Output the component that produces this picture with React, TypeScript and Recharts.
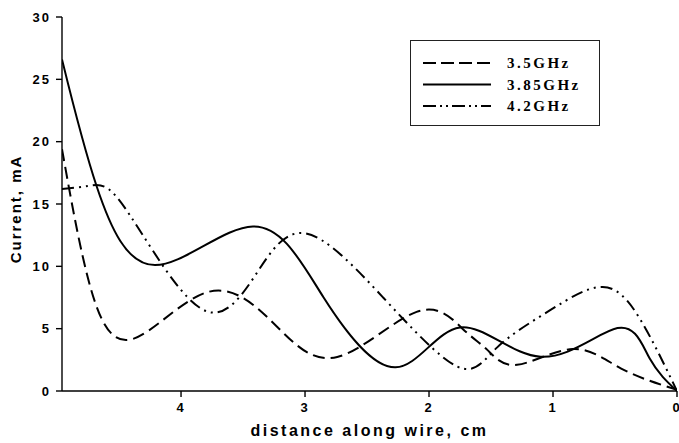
import React from 'react';
import { LineChart, Line, XAxis, YAxis } from 'recharts';

const dist35 = [4.96, 4.73, 4.39, 3.78, 3.24, 2.74, 2.1, 1.73, 1.53, 1.29, 0.84, 0.45, 0];
const cur35 = [19.4, 8.3, 4.17, 7.95, 5.3, 2.73, 6.35, 5.0, 3.3, 2.1, 3.37, 1.8, 0.1];

const dist385 = [4.96, 4.68, 4.21, 3.42, 2.85, 2.27, 1.75, 1.1, 0.48, 0.22, 0];
const cur385 = [26.6, 16.4, 10.1, 13.2, 7.5, 1.9, 5.1, 2.75, 5.05, 2.6, 0];

const dist42 = [4.96, 4.75, 4.55, 4.23, 3.78, 3.4, 3.0, 2.37, 1.77, 1.45, 1.02, 0.6, 0.3, 0];
const cur42 = [16.2, 16.45, 15.9, 11.3, 6.35, 9.3, 12.65, 7.5, 1.95, 3.5, 6.5, 8.35, 5.8, 0];

const xTicks = [0, 1, 2, 3, 4];
const yTicks = [0, 5, 10, 15, 20, 25, 30];

const seriesNames = ['3.5GHz', '3.85GHz', '4.2GHz'];
const dashes = ['12 6', '', '12 5 2 5 2 5'];

const build = (xs: number[], ys: number[]) => xs.map((x, i) => ({ x, y: ys[i] }));
const data35 = build(dist35, cur35);
const data385 = build(dist385, cur385);
const data42 = build(dist42, cur42);

const sans = '"Liberation Sans", Arial, sans-serif';
const serif = '"Liberation Serif", "Times New Roman", serif';

const tickStyle = { fontFamily: sans, fontWeight: 700, fontSize: 13, fill: '#000', letterSpacing: 2 };

const YLabel = (props: any) => {
  const vb = props.viewBox || { x: 0, y: 0, width: 0, height: 0 };
  const cx = 15;
  const cy = vb.y + vb.height / 2 + 5;
  return (
    <text
      x={cx}
      y={cy}
      transform={`rotate(-90 ${cx} ${cy})`}
      textAnchor="middle"
      dominantBaseline="central"
      style={{ fontFamily: sans, fontWeight: 700, fontSize: 15, letterSpacing: 2, fill: '#000' }}
    >
      Current, mA
    </text>
  );
};

const XLabel = (props: any) => {
  const vb = props.viewBox || { x: 0, y: 0, width: 0, height: 0 };
  const cx = vb.x + vb.width / 2;
  return (
    <text
      x={cx}
      y={436}
      textAnchor="middle"
      style={{ fontFamily: sans, fontWeight: 700, fontSize: 16, letterSpacing: 2.5, fill: '#000' }}
    >
      distance along wire, cm
    </text>
  );
};

const LegendBox = () => (
  <div
    style={{
      position: 'absolute',
      left: 410,
      top: 40,
      width: 188,
      height: 84,
      border: '1px solid #222',
      background: '#fff',
    }}
  >
    <svg width={188} height={84}>
      {seriesNames.map((name, i) => {
        const y = 22 + i * 21.5;
        return (
          <g key={name}>
            <line x1={12} x2={80} y1={y} y2={y} stroke="#000" strokeWidth={2.2} strokeDasharray={i === 2 ? '13 4 2 4 2 4' : i === 0 ? '13 5' : undefined} />
            <text
              x={96}
              y={y + 5}
              style={{ fontFamily: serif, fontWeight: 700, fontSize: 15, letterSpacing: 2.5, fill: '#000' }}
            >
              {name}
            </text>
          </g>
        );
      })}
    </svg>
  </div>
);

export default function App() {
  return (
    <div style={{ position: 'absolute', left: 0, top: 0, width: 679, height: 443, background: '#fff', overflow: 'hidden' }}>
      <LineChart width={679} height={443} margin={{ top: 17, right: 2, bottom: 0, left: 0 }}>
        <XAxis
          type="number"
          dataKey="x"
          domain={[0, 4.96]}
          reversed
          ticks={xTicks}
          interval={0}
          allowDataOverflow
          height={52}
          tick={tickStyle}
          tickSize={6}
          tickMargin={6}
          axisLine={{ stroke: '#000', strokeWidth: 1.4 }}
          tickLine={{ stroke: '#000', strokeWidth: 1.4 }}
          label={{ content: XLabel }}
        />
        <YAxis
          type="number"
          dataKey="y"
          domain={[0, 30]}
          ticks={yTicks}
          interval={0}
          width={62}
          tick={tickStyle}
          tickSize={6}
          tickMargin={5}
          axisLine={{ stroke: '#000', strokeWidth: 1.4 }}
          tickLine={{ stroke: '#000', strokeWidth: 1.4 }}
          label={{ content: YLabel }}
        />
        <Line data={data35} dataKey="y" type="natural" stroke="#000" strokeWidth={2} strokeDasharray={dashes[0]} dot={false} isAnimationActive={false} name={seriesNames[0]} />
        <Line data={data385} dataKey="y" type="natural" stroke="#000" strokeWidth={2} dot={false} isAnimationActive={false} name={seriesNames[1]} />
        <Line data={data42} dataKey="y" type="natural" stroke="#000" strokeWidth={2} strokeDasharray={dashes[2]} dot={false} isAnimationActive={false} name={seriesNames[2]} />
      </LineChart>
      <LegendBox />
    </div>
  );
}
